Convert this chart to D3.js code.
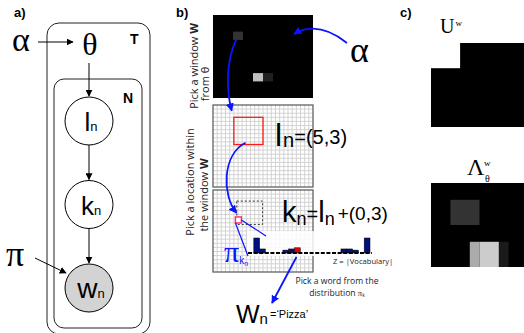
<!DOCTYPE html>
<html>
<head>
<meta charset="utf-8">
<script src="https://cdn.jsdelivr.net/npm/d3@7"></script>
<style>
  body { margin: 0; background: #fff; }
  svg { display: block; }
</style>
</head>
<body>
<svg id="fig"></svg>
<script>
const width = 524;
const height = 333;

// Panel a: nodes of the graphical model, top to bottom.
const nodeNames = ['l', 'k', 'w'];
const nodeObserved = [false, false, true];

// Panel b: theta grid (10x10) with non-zero cells, gray level 0..1.
const thetaSize = 10;
const thetaCells = [
  { c: 2, r: 2, w: 1, h: 1, v: 0.2 },
  { c: 4, r: 7, w: 1, h: 1, v: 0.75 },
  { c: 5, r: 7, w: 1, h: 1, v: 0.13 },
];
// Counting grid size, window location l_n and offset within window.
const gridCols = 24;
const gridRows = 20;
const windowLoc = [5, 3];
const windowSize = 7;
const kOffset = [0, 3];
// Word distribution pi_k over the vocabulary.
const piValues = [0, 0.26, 0.07, 0, 0, 0, 0.05, 0.07, 0.09, 0, 0, 0, 0, 0, 0, 0, 0.07, 0.07, 0.05, 0, 0.26];
const chosenWord = 8;

// Panel c: U^w and Lambda^w_theta grids.
const cSize = 10;
const uCells = [{ c: 0, r: 0, w: 3, h: 3, v: 1 }];
const lambdaCells = [
  { c: 2, r: 2, w: 3, h: 3, v: 0.2 },
  { c: 4, r: 7, w: 1, h: 3, v: 0.67 },
  { c: 5, r: 7, w: 2, h: 3, v: 0.8 },
  { c: 7, r: 7, w: 1, h: 3, v: 0.1 },
];

const blue = '#0a14ff';
const sans = 'Liberation Sans, Arial, sans-serif';
const serif = 'Liberation Serif, Times New Roman, serif';
const body = 'Open Sans, sans-serif';
const gray = (v) => d3.rgb(v * 255, v * 255, v * 255).toString();

const svg = d3.select('#fig')
  .attr('width', width)
  .attr('height', height)
  .attr('viewBox', `0 0 ${width} ${height}`);

const defs = svg.append('defs');
function addMarker(id, color) {
  defs.append('marker')
    .attr('id', id)
    .attr('viewBox', '0 0 10 10')
    .attr('refX', 9)
    .attr('refY', 5)
    .attr('markerWidth', id === 'head-k' ? 7 : 4.5)
    .attr('markerHeight', id === 'head-k' ? 7 : 4.5)
    .attr('orient', 'auto')
    .append('path')
    .attr('d', 'M0,0L10,5L0,10z')
    .attr('fill', color);
}
addMarker('head-k', '#000');
addMarker('head-b', blue);

// Panel labels.
svg.selectAll('text.panel')
  .data([['a)', 14], ['b)', 176], ['c)', 400]])
  .join('text')
  .attr('class', 'panel')
  .attr('x', (d) => d[1])
  .attr('y', 17)
  .attr('font-family', sans)
  .attr('font-weight', 'bold')
  .attr('font-size', 13)
  .text((d) => d[0]);

/**
 * Panel a: plate diagram.
 */
const pa = svg.append('g');
pa.append('rect')
  .attr('x', 47).attr('y', 23).attr('width', 103).attr('height', 311)
  .attr('rx', 12).attr('fill', 'none').attr('stroke', '#222');
pa.append('rect')
  .attr('x', 54).attr('y', 79).attr('width', 88).attr('height', 249)
  .attr('rx', 10).attr('fill', 'none').attr('stroke', '#222');
pa.append('text').attr('x', 130).attr('y', 44)
  .attr('font-family', sans).attr('font-weight', 'bold').attr('font-size', 14).text('T');
pa.append('text').attr('x', 123).attr('y', 103)
  .attr('font-family', sans).attr('font-weight', 'bold').attr('font-size', 14).text('N');

const nodeY = d3.scalePoint().domain(nodeNames).range([121, 288]);
const nodeX = 89;
const nodeR = 24;

pa.selectAll('circle.node')
  .data(nodeNames)
  .join('circle')
  .attr('cx', nodeX)
  .attr('cy', (d) => nodeY(d))
  .attr('r', nodeR)
  .attr('fill', (d, i) => (nodeObserved[i] ? '#d3d3d3' : '#fff'))
  .attr('stroke', '#000');

const nodeText = pa.selectAll('text.node')
  .data(nodeNames)
  .join('text')
  .attr('x', nodeX + 2)
  .attr('y', (d) => nodeY(d) + 10)
  .attr('text-anchor', 'middle')
  .attr('font-family', sans);
nodeText.append('tspan').attr('font-size', (d) => (d === 'w' ? 28 : 26)).text((d) => d);
nodeText.append('tspan').attr('font-size', 13).text('n');

// Edges between nodes.
nodeNames.slice(1).forEach((d, i) => {
  pa.append('line')
    .attr('x1', nodeX).attr('y1', nodeY(nodeNames[i]) + nodeR)
    .attr('x2', nodeX).attr('y2', nodeY(d) - nodeR - 1)
    .attr('stroke', '#000')
    .attr('marker-end', 'url(#head-k)');
});
pa.append('text').attr('x', 90).attr('y', 55).attr('text-anchor', 'middle')
  .attr('font-family', serif).attr('font-size', 32).text('θ');
pa.append('text').attr('x', 12).attr('y', 51)
  .attr('font-family', serif).attr('font-size', 34).text('α');
pa.append('text').attr('x', 6).attr('y', 266)
  .attr('font-family', serif).attr('font-size', 36).text('π');
pa.append('line').attr('x1', nodeX).attr('y1', 63).attr('x2', nodeX).attr('y2', nodeY('l') - nodeR - 1)
  .attr('stroke', '#000').attr('marker-end', 'url(#head-k)');
pa.append('line').attr('x1', 38).attr('y1', 42).attr('x2', 73).attr('y2', 42)
  .attr('stroke', '#000').attr('marker-end', 'url(#head-k)');
pa.append('line').attr('x1', 35).attr('y1', 258).attr('x2', 66).attr('y2', 273)
  .attr('stroke', '#000').attr('marker-end', 'url(#head-k)');

/**
 * Panel b.
 */
const pb = svg.append('g');

// Vertical step labels.
function vLabel(x, y, parts) {
  const t = pb.append('text')
    .attr('transform', `translate(${x},${y}) rotate(-90)`)
    .attr('text-anchor', 'middle')
    .attr('font-family', body)
    .attr('font-size', 11)
    .attr('fill', '#222');
  parts.forEach((p) => t.append('tspan').attr('font-weight', p[1] ? 'bold' : null).text(p[0]));
}
vLabel(198, 66, [['Pick a window ', false], ['W', true]]);
vLabel(209, 84, [['from θ', false]]);
vLabel(194, 182, [['Pick a location within', false]]);
vLabel(208, 195, [['the window ', false], ['W', true]]);

// Theta grid (black with gray cells).
const tx = d3.scaleBand().domain(d3.range(thetaSize)).range([213, 313]);
const ty = d3.scaleBand().domain(d3.range(thetaSize)).range([15, 98]);
pb.append('rect').attr('x', 213).attr('y', 15).attr('width', 100).attr('height', 83).attr('fill', '#000');
pb.selectAll('rect.theta')
  .data(thetaCells)
  .join('rect')
  .attr('x', (d) => tx(d.c))
  .attr('y', (d) => ty(d.r))
  .attr('width', (d) => d.w * tx.bandwidth())
  .attr('height', (d) => d.h * ty.bandwidth())
  .attr('fill', (d) => gray(d.v));

// Counting grids.
const gx = d3.scaleLinear().domain([0, gridCols]).range([213, 313]);
function drawGrid(gy) {
  const g = pb.append('g');
  g.append('rect').attr('x', gx(0)).attr('y', gy(0))
    .attr('width', gx(gridCols) - gx(0)).attr('height', gy(gridRows) - gy(0)).attr('fill', '#fff');
  g.selectAll('line.v').data(d3.range(1, gridCols)).join('line')
    .attr('x1', (d) => gx(d)).attr('x2', (d) => gx(d))
    .attr('y1', gy(0)).attr('y2', gy(gridRows))
    .attr('stroke', '#cfcfcf').attr('stroke-width', 0.9);
  g.selectAll('line.h').data(d3.range(1, gridRows)).join('line')
    .attr('y1', (d) => gy(d)).attr('y2', (d) => gy(d))
    .attr('x1', gx(0)).attr('x2', gx(gridCols))
    .attr('stroke', '#cfcfcf').attr('stroke-width', 0.9);
  g.append('rect').attr('x', gx(0)).attr('y', gy(0))
    .attr('width', gx(gridCols) - gx(0)).attr('height', gy(gridRows) - gy(0))
    .attr('fill', 'none').attr('stroke', '#555').attr('stroke-width', 1.2);
  return g;
}
const gyMid = d3.scaleLinear().domain([0, gridRows]).range([105, 187]);
const gyBot = d3.scaleLinear().domain([0, gridRows]).range([190, 272]);
drawGrid(gyMid);
drawGrid(gyBot);

// Window l_n on the middle grid.
pb.append('rect')
  .attr('x', gx(windowLoc[0])).attr('y', gyMid(windowLoc[1]))
  .attr('width', gx(windowSize) - gx(0)).attr('height', gyMid(windowSize) - gyMid(0) - 1.5)
  .attr('fill', 'none').attr('stroke', '#ff1a1a').attr('stroke-width', 1.3);

// Window (dotted) and location k_n on the bottom grid.
pb.append('rect')
  .attr('x', gx(windowLoc[0] + 0.7)).attr('y', gyBot(windowLoc[1] - 0.3))
  .attr('width', gx(6.2) - gx(0)).attr('height', gyBot(5.7) - gyBot(0))
  .attr('fill', 'none').attr('stroke', '#222').attr('stroke-width', 0.9).attr('stroke-dasharray', '2,2');
const kx = gx(windowLoc[0] + kOffset[0] + 1.1);
const ky = gyBot(windowLoc[1] + kOffset[1] + 1.3);
pb.append('rect')
  .attr('x', kx - 3).attr('y', ky - 3).attr('width', 6).attr('height', 6)
  .attr('fill', '#fff').attr('stroke', '#ff2a6a').attr('stroke-width', 1.4);

// Histogram pi_k.
const hx = d3.scaleBand().domain(d3.range(piValues.length)).range([248, 370]);
const hy = d3.scaleLinear().domain([0, 0.26]).range([253, 238]);
pb.append('rect').attr('x', 247).attr('y', 231).attr('width', 140).attr('height', 25)
  .attr('fill', '#fff').attr('opacity', 0.85);
pb.append('line').attr('x1', kx + 3).attr('y1', ky).attr('x2', 266).attr('y2', 236)
  .attr('stroke', blue).attr('stroke-width', 1.2);
pb.append('line').attr('x1', kx - 3).attr('y1', ky + 3).attr('x2', 248).attr('y2', 256)
  .attr('stroke', blue).attr('stroke-width', 1.2);
pb.selectAll('rect.bar')
  .data(piValues)
  .join('rect')
  .attr('x', (d, i) => hx(i))
  .attr('y', (d) => hy(d))
  .attr('width', hx.bandwidth())
  .attr('height', (d) => hy(0) - hy(d))
  .attr('fill', (d, i) => (i === chosenWord ? '#e80000' : '#001080'))
  .attr('stroke', '#000')
  .attr('stroke-width', (d) => (d > 0 ? 0.5 : 0));
pb.append('line').attr('x1', 248).attr('x2', 372).attr('y1', hy(0)).attr('y2', hy(0))
  .attr('stroke', '#000').attr('stroke-width', 1.8).attr('stroke-dasharray', '4,1.6');
pb.append('text').attr('x', 333).attr('y', 264)
  .attr('font-family', body).attr('font-size', 7.6).attr('fill', '#222').text('Z = |Vocabulary|');

// Blue annotation arrows.
const curves = [
  'M347,43 Q318,20 294,34',
  `M${tx(2) + 3},${ty(3)} C226,62 226,90 ${gx(4.5)},${gyMid(1.4)}`,
  `M${gx(7.8)},${gyMid(9.2)} C222,155 222,195 ${kx - 2},${ky - 7}`,
  `M${hx(chosenWord) + 2},257 L272,303`,
];
pb.selectAll('path.arrow')
  .data(curves)
  .join('path')
  .attr('d', (d) => d)
  .attr('fill', 'none')
  .attr('stroke', blue)
  .attr('stroke-width', 1.8)
  .attr('marker-end', 'url(#head-b)');

pb.append('text').attr('x', 350).attr('y', 62)
  .attr('font-family', serif).attr('font-size', 36).text('α');

// l_n = (5,3)
const lt = pb.append('text').attr('x', 275).attr('y', 146).attr('font-family', sans);
lt.append('tspan').attr('font-size', 32).text('l');
lt.append('tspan').attr('font-size', 20).attr('dx', 1).attr('dy', 1).text('n');
lt.append('tspan').attr('font-size', 20).attr('dy', -3).text(`=(${windowLoc.join(',')})`);

// k_n = l_n + (0,3)
const kt = pb.append('text').attr('x', 282).attr('y', 222).attr('font-family', sans);
kt.append('tspan').attr('font-size', 29).text('k');
kt.append('tspan').attr('font-size', 18).attr('dy', 3).text('n');
kt.append('tspan').attr('font-size', 20).attr('dy', -4).text('=');
kt.append('tspan').attr('font-size', 29).attr('dy', 1).text('l');
kt.append('tspan').attr('font-size', 18).attr('dy', 3).text('n');
kt.append('tspan').attr('font-size', 19).attr('dx', 3).attr('dy', -5).text(`+(${kOffset.join(',')})`);

// pi_kn
const pt = pb.append('text').attr('x', 224).attr('y', 262).attr('font-family', serif).attr('fill', blue);
pt.append('tspan').attr('font-size', 30).text('π');
pt.append('tspan').attr('font-family', sans).attr('font-size', 10).attr('dy', 2).text('k');
pt.append('tspan').attr('font-family', sans).attr('font-size', 7).attr('dy', 2).text('n');

// Pick a word text.
pb.append('text').attr('x', 337).attr('y', 284).attr('text-anchor', 'middle')
  .attr('font-family', body).attr('font-size', 8.6).attr('fill', '#222').text('Pick a word from the');
const dt = pb.append('text').attr('x', 337).attr('y', 296).attr('text-anchor', 'middle')
  .attr('font-family', body).attr('font-size', 8.6).attr('fill', '#222');
dt.append('tspan').text('distribution ');
dt.append('tspan').attr('font-family', serif).text('π');
dt.append('tspan').attr('font-size', 5).attr('dy', 1).text('k');

// W_n = 'Pizza'
const wt = pb.append('text').attr('x', 236).attr('y', 323).attr('font-family', sans);
wt.append('tspan').attr('font-size', 25).text('W');
wt.append('tspan').attr('font-size', 15).attr('dy', 1).text('n');
wt.append('tspan').attr('font-size', 11).attr('dx', 2).attr('dy', -6).text('=‘Pizza’');

/**
 * Panel c.
 */
const pc = svg.append('g');
const cx = d3.scaleBand().domain(d3.range(cSize)).range([431, 528]);
function cGrid(y0, cells) {
  const cy = d3.scaleBand().domain(d3.range(cSize)).range([y0, y0 + 84]);
  pc.append('rect').attr('x', 431).attr('y', y0).attr('width', 97).attr('height', 84).attr('fill', '#000');
  pc.selectAll(null)
    .data(cells)
    .join('rect')
    .attr('x', (d) => cx(d.c))
    .attr('y', (d) => cy(d.r))
    .attr('width', (d) => d.w * cx.bandwidth())
    .attr('height', (d) => d.h * cy.bandwidth())
    .attr('fill', (d) => gray(d.v));
}
cGrid(43, uCells);
cGrid(183, lambdaCells);

const ut = pc.append('text').attr('x', 440).attr('y', 33).attr('font-family', serif);
ut.append('tspan').attr('font-size', 20).text('U');
ut.append('tspan').attr('font-size', 9).attr('dx', 1).attr('dy', -7).text('w');

pc.append('text').attr('x', 467).attr('y', 175).attr('font-family', serif).attr('font-size', 24).text('Λ');
pc.append('text').attr('x', 484).attr('y', 166).attr('font-family', serif).attr('font-size', 9).text('w');
pc.append('text').attr('x', 485).attr('y', 182).attr('font-family', serif).attr('font-size', 10).text('θ');
</script>
</body>
</html>
